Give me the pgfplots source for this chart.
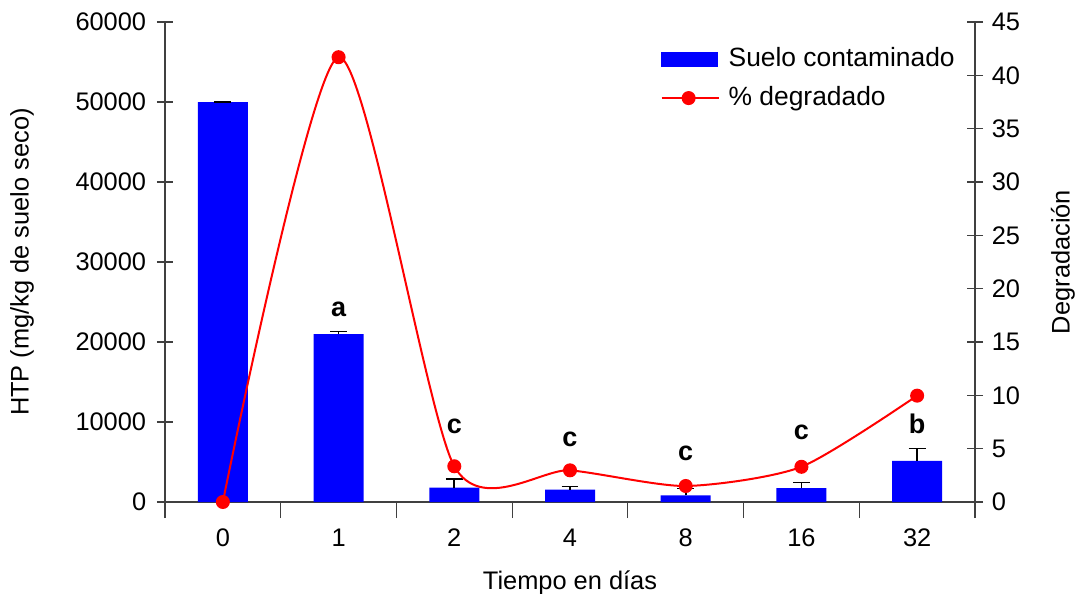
\documentclass[border=0pt]{standalone}
\usepackage{fontspec}
\setmainfont{Liberation Sans}
\usepackage{pgfplots}
\pgfplotsset{compat=1.18}
\definecolor{barblue}{RGB}{0,0,255}
\definecolor{linered}{RGB}{255,0,0}

\begin{document}
\fontsize{12.7}{15}\selectfont
\begin{tikzpicture}
\pgfplotsset{
  every axis/.append style={
    scale only axis, width=405pt, height=240pt,
    xmin=-0.5, xmax=6.5,
    tick align=center, major tick length=8pt, minor tick length=8pt,
    axis line style={black!75, line width=0.8pt},
    every tick/.style={black!75, line width=0.6pt},
    /pgf/number format/assume math mode=true,
    /pgf/number format/1000 sep={},
    scaled y ticks=false,
    clip=false,
  }
}
% left axis: HTP bars
\begin{axis}[
  name=plot,
  axis y line=left, axis x line=bottom,
  x axis line style={-}, y axis line style={-},
  ybar, bar width=25pt,
  ymin=0, ymax=60000, ytick={0,10000,...,60000},
  xtick={0,...,6}, xticklabels={0,1,2,4,8,16,32},
  major x tick style={draw=none},
  minor xtick={-0.5,0.5,...,6.5},
  minor x tick style={black!75, line width=0.6pt},
  xticklabel style={yshift=-1pt},
  yticklabel style={xshift=-1pt},
  xlabel={Tiempo en días},
  ylabel={HTP (mg/kg de suelo seco)},
  xlabel style={at={(axis description cs:0.5,-0.183)}, anchor=base},
  ylabel style={at={(axis description cs:-0.1765,0.5)}, anchor=center},
]
\addplot[fill=barblue, draw=none,
  error bars/.cd, y dir=plus, y explicit,
  error bar style={black, line width=0.8pt},
  error mark options={rotate=90, black, mark size=4.2pt, line width=0.8pt}]
  coordinates {
  (0,50000) +- (0,0)
  (1,21000) +- (0,300)
  (2,1800)  +- (0,1100)
  (3,1550)  +- (0,400)
  (4,840)   +- (0,860)
  (5,1750)  +- (0,700)
  (6,5150)  +- (0,1550)
};
\node[anchor=base, font=\fontsize{13.5}{15}\bfseries] at (axis cs:1,23200) {a};
\node[anchor=base, font=\fontsize{13.5}{15}\bfseries] at (axis cs:2,8600) {c};
\node[anchor=base, font=\fontsize{13.5}{15}\bfseries] at (axis cs:3,6960) {c};
\node[anchor=base, font=\fontsize{13.5}{15}\bfseries] at (axis cs:4,5200) {c};
\node[anchor=base, font=\fontsize{13.5}{15}\bfseries] at (axis cs:5,7800) {c};
\node[anchor=base, font=\fontsize{13.5}{15}\bfseries] at (axis cs:6,8600) {b};
\end{axis}
% right axis: % degradation
\begin{axis}[
  axis y line=right, axis x line=none,
  y axis line style={-},
  ymin=0, ymax=45, ytick={0,5,...,45},
  ylabel={Degradación},
  ylabel style={at={(axis description cs:1.1086,0.5)}, anchor=center},
  legend style={draw=none, fill=none, at={(axis description cs:0.604,0.964)},
    anchor=north west, row sep=4pt, font=\fontsize{13.2}{15}\selectfont,
    nodes={inner xsep=4.5pt}},
  legend cell align=left,
]
\addlegendimage{legend image code/.code={\fill[barblue] (0pt,-3.5pt) rectangle (28pt,3.5pt);}}
\addlegendentry{Suelo contaminado}
\addplot[linered, line width=1pt, smooth, tension=0.42, mark=*, mark size=3pt,
  mark options={fill=linered, draw=linered},
  legend image code/.code={\draw[linered, line width=1pt] (0pt,0pt) -- (28.5pt,0pt);
    \fill[linered] (13.5pt,0pt) circle (3pt);}]
  coordinates {(0,0) (1,41.7) (2,3.35) (3,2.97) (4,1.5) (5,3.3) (6,9.97)};
\addlegendentry{\% degradado}
\end{axis}
\pgfresetboundingbox
\path ([xshift=-82.5pt,yshift=-46pt]plot.south west) rectangle ([xshift=53pt,yshift=11pt]plot.north east);
\end{tikzpicture}
\end{document}
